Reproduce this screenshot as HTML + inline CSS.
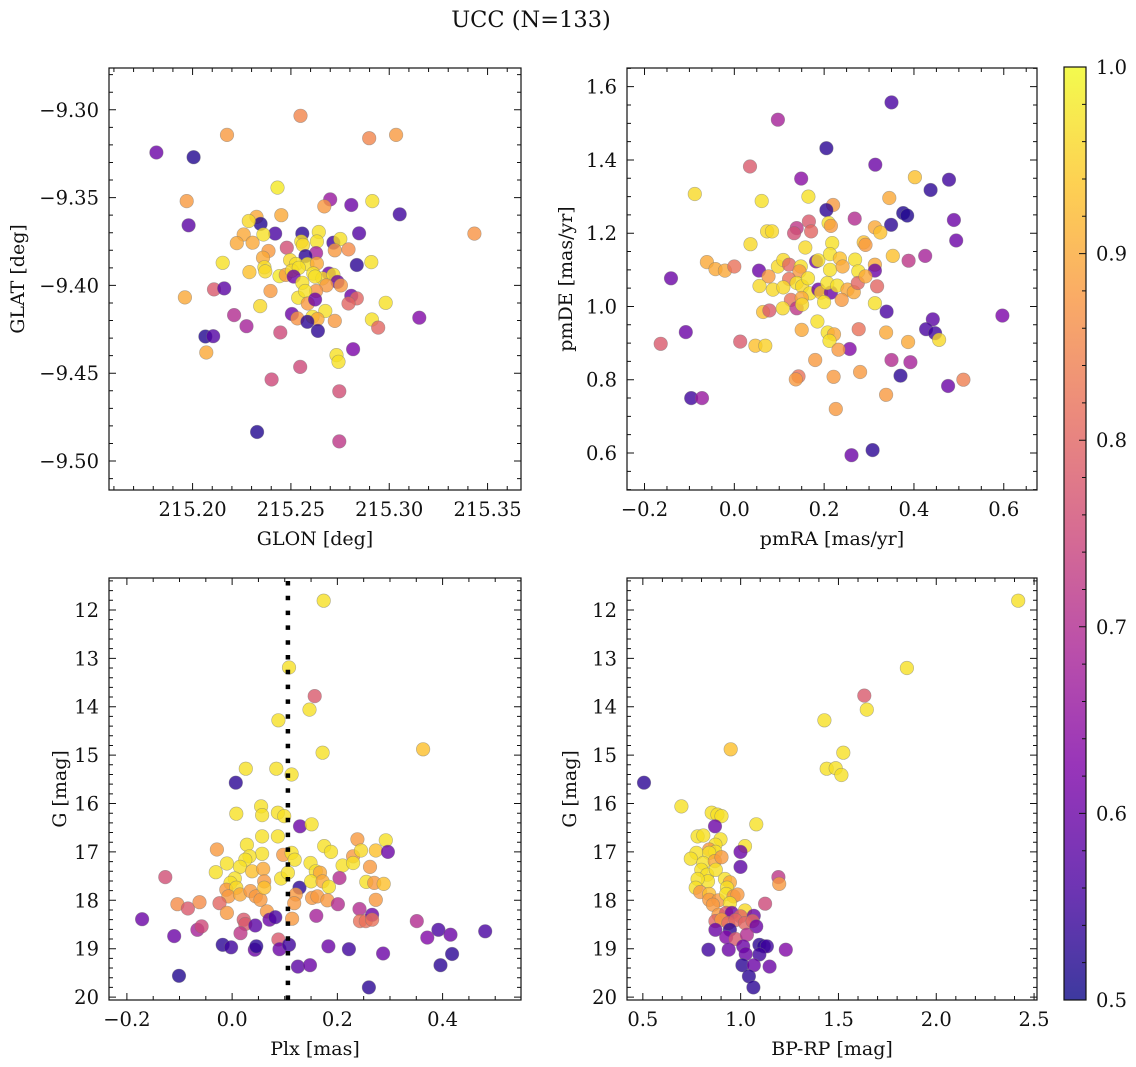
<!DOCTYPE html>
<html><head><meta charset="utf-8">
<style>
html,body{margin:0;padding:0;background:#fff;}
svg{display:block;font-family:"DejaVu Serif","Liberation Serif",serif;}
</style></head>
<body>
<svg id="fig" width="1136" height="1067" viewBox="0 0 1136 1067" xmlns="http://www.w3.org/2000/svg">
<rect x="0" y="0" width="1136" height="1067" fill="#fff"/>
<text x="531" y="27" font-size="22.5" text-anchor="middle" fill="#111">UCC (N=133)</text>
<defs>
<linearGradient id="plasmaGrad" x1="0" y1="1" x2="0" y2="0">
<stop offset="0" stop-color="#0d0887"/><stop offset="0.125" stop-color="#4c02a1"/><stop offset="0.25" stop-color="#7e03a8"/><stop offset="0.375" stop-color="#a92395"/><stop offset="0.5" stop-color="#cc4778"/><stop offset="0.625" stop-color="#e66c5c"/><stop offset="0.75" stop-color="#f89540"/><stop offset="0.875" stop-color="#fdc527"/><stop offset="1" stop-color="#f0f921"/>
</linearGradient>
</defs>
</svg>
<script>
// ---- Panel 1: GLON vs GLAT ----
const p1x=[215.1816,215.2005,215.2175,215.2549,215.2898,215.3035,215.197,215.198,215.2432,215.270,215.2807,215.2914,215.3053,215.3433,215.267,215.2325,215.2346,215.2286,215.2451,215.242,215.226,215.2225,215.2305,215.236,215.2558,215.2642,215.2847,215.2716,215.2751,215.2632,215.2553,215.2561,215.2479,215.2386,215.2723,215.2793,215.2628,215.2358,215.2153,215.2835,215.2909,215.2574,215.2496,215.2526,215.2584,215.2632,215.2365,215.237,215.2289,215.2442,215.2474,215.2505,215.254,215.2514,215.2614,215.2693,215.266,215.2716,215.2737,215.2681,215.2754,215.2558,215.2623,215.2109,215.2161,215.1961,215.2396,215.2628,215.2537,215.2572,215.2807,215.2835,215.2793,215.2982,215.2586,215.2623,215.2344,215.2211,215.2505,215.2533,215.261,215.2675,215.2635,215.2584,215.2723,215.2912,215.2944,215.3153,215.2274,215.2446,215.2637,215.2065,215.2105,215.207,215.2816,215.2732,215.2742,215.2547,215.2402,215.2746,215.2328,215.2746];
const p1y=[-9.3243,-9.327,-9.3143,-9.3034,-9.3162,-9.3143,-9.352,-9.3658,-9.3443,-9.351,-9.3542,-9.352,-9.3595,-9.3705,-9.355,-9.361,-9.365,-9.3633,-9.360,-9.3705,-9.371,-9.3759,-9.3757,-9.371,-9.3705,-9.3696,-9.3703,-9.3757,-9.3736,-9.375,-9.375,-9.377,-9.3785,-9.3804,-9.380,-9.3795,-9.3816,-9.3842,-9.3871,-9.3884,-9.3867,-9.3833,-9.3856,-9.3878,-9.3878,-9.3875,-9.3897,-9.392,-9.3924,-9.3947,-9.394,-9.3916,-9.390,-9.395,-9.3932,-9.3932,-9.396,-9.394,-9.398,-9.400,-9.400,-9.3985,-9.395,-9.4023,-9.4017,-9.4068,-9.4032,-9.4032,-9.407,-9.4032,-9.4059,-9.4074,-9.4103,-9.4099,-9.4103,-9.408,-9.4118,-9.4169,-9.4163,-9.4188,-9.4179,-9.4146,-9.4192,-9.4207,-9.4202,-9.4194,-9.424,-9.4184,-9.4232,-9.4268,-9.4259,-9.4291,-9.4289,-9.4382,-9.4363,-9.4397,-9.4435,-9.4464,-9.4536,-9.4603,-9.4835,-9.4888];
const p1c=[.6,.52,.88,.85,.85,.88,.88,.58,.98,.66,.6,.97,.55,.87,.88,.9,.52,.96,.9,.56,.9,.9,.9,.97,.53,.97,.57,.55,.97,.97,.97,.96,.76,.88,.88,.86,.68,.9,.97,.53,.97,.53,.96,.97,.97,.9,.97,.96,.93,.98,.88,.96,.97,.6,.97,.6,.96,.97,.6,.88,.88,.97,.97,.78,.58,.9,.88,.87,.97,.97,.6,.8,.8,.97,.88,.6,.96,.7,.6,.87,.97,.97,.9,.53,.88,.97,.8,.63,.68,.75,.53,.52,.57,.9,.62,.97,.97,.75,.75,.76,.52,.72];
const p1xTicks=[215.20,215.25,215.30,215.35];
const p1xTickLabels=["215.20","215.25","215.30","215.35"];
const p1yTicks=[-9.30,-9.35,-9.40,-9.45,-9.50];
const p1yTickLabels=["\u22129.30","\u22129.35","\u22129.40","\u22129.45","\u22129.50"];

// ---- Panel 2: pmRA vs pmDE ----
const p2x=[.350,.097,.205,.314,.035,.149,.402,.478,.437,-.088,.061,.165,.345,.220,.205,.376,.385,.268,.489,.166,.210,.215,.349,.313,.325,.139,.133,.171,.073,.084,.494,.036,.218,.288,.292,.158,.353,.425,-.061,-.042,-.021,0,.055,.097,.109,.122,.148,.145,.182,.187,.213,.213,.235,.241,.269,.313,.313,.276,.388,.076,.122,.139,.151,.164,.056,.086,.109,.168,.187,.193,.215,.207,.229,.252,.266,.275,.292,.318,.126,.139,.150,.151,.200,.239,.313,.064,.078,.108,.339,.442,.597,.185,.150,.277,.338,.427,.447,.456,.208,.222,.212,.387,.047,.069,.013,-.164,-.108,-.141,.257,.232,.180,.350,.392,.370,.143,.137,.221,.280,.476,.510,.338,-.096,-.072,.226,.261,.308];
const p2y=[1.557,1.510,1.432,1.387,1.382,1.349,1.353,1.346,1.318,1.307,1.288,1.300,1.296,1.277,1.263,1.255,1.248,1.240,1.236,1.232,1.228,1.220,1.223,1.216,1.202,1.214,1.200,1.205,1.205,1.205,1.180,1.170,1.173,1.175,1.168,1.161,1.138,1.138,1.121,1.102,1.098,1.109,1.098,1.109,1.127,1.114,1.109,1.096,1.123,1.126,1.100,1.143,1.131,1.109,1.128,1.114,1.098,1.096,1.125,1.082,1.075,1.064,1.055,1.077,1.056,1.046,1.052,1.036,1.046,1.038,1.038,1.064,1.057,1.046,1.039,1.064,1.082,1.055,1.018,0.995,1.023,1.005,1.012,1.018,1.009,0.985,0.989,0.995,0.986,0.965,0.975,0.959,0.936,0.938,0.929,0.938,0.927,0.909,0.929,0.924,0.906,0.903,0.893,0.893,0.904,0.898,0.930,1.077,0.884,0.882,0.854,0.854,0.848,0.811,0.809,0.801,0.808,0.821,0.783,0.800,0.759,0.750,0.750,0.720,0.594,0.608];
const p2c=[.56,.68,.53,.6,.78,.64,.93,.55,.53,.96,.97,.97,.9,.88,.53,.52,.52,.7,.6,.78,.97,.88,.53,.9,.93,.72,.76,.8,.96,.96,.6,.96,.97,.93,.88,.96,.93,.68,.9,.9,.9,.82,.6,.96,.96,.8,.97,.88,.6,.97,.97,.97,.93,.9,.97,.9,.6,.97,.72,.88,.82,.97,.96,.97,.96,.96,.96,.97,.6,.94,.6,.97,.97,.9,.9,.8,.9,.8,.82,.72,.9,.96,.97,.88,.97,.93,.78,.96,.56,.58,.62,.97,.9,.82,.9,.56,.55,.96,.97,.9,.97,.9,.93,.95,.78,.78,.6,.6,.63,.88,.88,.7,.68,.53,.82,.88,.88,.88,.6,.84,.88,.55,.66,.88,.6,.53];
const p2xTicks=[-0.2,0.0,0.2,0.4,0.6];
const p2xTickLabels=["\u22120.2","0.0","0.2","0.4","0.6"];
const p2yTicks=[0.6,0.8,1.0,1.2,1.4,1.6];
const p2yTickLabels=["0.6","0.8","1.0","1.2","1.4","1.6"];

// ---- Panel 3: Plx vs G ----
const p3x=[.174,.108,.157,.147,.088,.363,.172,.026,.084,.113,.007,.055,.008,.057,.087,.099,.129,.151,.057,.087,-.029,.028,.057,.097,.113,.175,.188,.238,.230,.245,.273,.292,.296,.033,.025,-.010,.015,.038,-.031,.059,.119,.149,.159,.167,.210,.230,.262,.005,-.003,-.011,.008,-.007,.015,.035,.045,.054,.061,.061,.093,.106,.128,.121,.118,.150,.172,.184,.152,.162,.181,.204,.255,.270,.288,.273,.201,-.127,-.104,-.084,-.062,-.024,-.010,.066,-.171,-.110,-.066,-.058,.022,.025,.016,.044,.071,.082,.114,.160,.242,.243,.254,.266,.266,.351,.371,.392,.415,.481,.418,.396,-.018,-.002,.043,.046,.088,.090,.108,.183,.222,.287,.125,.148,.260,-.101];
const p3y=[11.81,13.19,13.78,14.06,14.28,14.88,14.95,15.28,15.28,15.40,15.57,16.06,16.21,16.24,16.19,16.26,16.47,16.43,16.68,16.68,16.95,16.85,17.04,17.06,17.02,16.88,17.0,16.74,17.09,16.97,16.97,16.76,17.0,17.09,17.16,17.24,17.31,17.40,17.42,17.35,17.16,17.23,17.40,17.43,17.28,17.23,17.31,17.55,17.64,17.78,17.74,17.92,17.88,17.81,17.92,17.99,17.61,17.74,17.55,17.43,17.74,17.88,18.06,17.61,17.61,17.72,17.95,17.92,18.0,17.54,17.62,17.64,17.66,17.99,18.08,17.52,18.08,18.17,18.04,18.06,18.26,18.23,18.39,18.74,18.61,18.54,18.40,18.49,18.68,18.52,18.40,18.35,18.38,18.32,18.18,18.43,18.43,18.30,18.40,18.43,18.77,18.61,18.71,18.64,19.11,19.34,18.92,18.97,19.02,18.95,18.81,19.01,18.92,18.95,19.01,19.10,19.37,19.34,19.80,19.56];
const p3c=[.97,.97,.78,.97,.97,.93,.97,.97,.97,.97,.53,.97,.97,.97,.97,.97,.6,.97,.97,.97,.88,.97,.97,.88,.97,.97,.97,.88,.88,.96,.93,.97,.6,.97,.97,.97,.97,.93,.97,.9,.97,.97,.97,.9,.97,.97,.88,.97,.97,.88,.96,.88,.9,.88,.88,.88,.88,.93,.97,.97,.53,.88,.88,.97,.9,.97,.88,.88,.88,.7,.97,.88,.93,.88,.7,.76,.86,.78,.86,.8,.88,.88,.6,.6,.68,.75,.78,.78,.72,.58,.6,.56,.88,.68,.7,.82,.82,.6,.82,.7,.63,.56,.6,.56,.53,.53,.53,.55,.6,.53,.78,.6,.55,.6,.55,.6,.58,.6,.53,.52];
const p3xTicks=[-0.2,0.0,0.2,0.4];
const p3xTickLabels=["\u22120.2","0.0","0.2","0.4"];
const gTicks=[12,13,14,15,16,17,18,19,20];
const gTickLabels=["12","13","14","15","16","17","18","19","20"];
const plxLine=[0.106];

// ---- Panel 4: BP-RP vs G ----
const p4x=[2.419,1.850,1.632,1.645,1.428,.949,1.525,1.440,1.486,1.515,.506,.697,.852,.881,.902,1.080,.869,.780,.809,.897,.871,1.022,.999,.839,.871,.774,.745,.839,.809,.868,.902,.999,.799,.829,.873,.920,.945,.833,.780,.770,.793,.930,1.193,1.197,.839,.839,.887,.926,.964,.984,.858,.945,1.125,1.022,.887,.926,.955,.999,1.067,.871,.902,.937,.974,1.022,1.061,1.080,.871,.945,.926,.974,1.032,.835,.939,1.013,1.026,1.096,1.119,1.134,1.096,1.231,1.009,1.067,1.148,1.042,1.065];
const p4y=[11.81,13.20,13.77,14.06,14.28,14.88,14.95,15.28,15.27,15.41,15.57,16.06,16.19,16.23,16.26,16.43,16.47,16.68,16.66,16.74,16.85,16.88,17.0,16.95,17.0,17.02,17.14,17.02,17.23,17.19,17.11,17.31,17.37,17.47,17.37,17.56,17.63,17.61,17.56,17.74,17.83,17.74,17.52,17.66,17.87,17.99,18.0,17.87,17.92,17.88,18.09,18.06,18.07,18.21,18.30,18.26,18.26,18.33,18.32,18.43,18.40,18.47,18.41,18.47,18.43,18.54,18.61,18.61,18.76,18.80,18.71,19.02,19.02,18.95,19.11,18.92,18.95,18.95,19.12,19.02,19.34,19.34,19.37,19.57,19.80];
const p4c=[.97,.97,.78,.97,.97,.93,.97,.97,.97,.97,.53,.97,.97,.97,.97,.97,.6,.97,.97,.97,.97,.97,.6,.88,.97,.97,.97,.97,.97,.9,.88,.58,.97,.97,.97,.97,.9,.97,.97,.97,.88,.97,.72,.88,.93,.88,.88,.97,.88,.88,.88,.97,.75,.96,.88,.78,.6,.8,.6,.8,.88,.8,.8,.8,.8,.6,.6,.53,.63,.78,.7,.55,.6,.6,.6,.53,.53,.55,.55,.63,.53,.6,.6,.53,.53];
const p4xTicks=[0.5,1.0,1.5,2.0,2.5];
const p4xTickLabels=["0.5","1.0","1.5","2.0","2.5"];

// ---- Colorbar ----
const cbTicks=[0.5,0.6,0.7,0.8,0.9,1.0];
const cbTickLabels=["0.5","0.6","0.7","0.8","0.9","1.0"];

const NS="http://www.w3.org/2000/svg";
const svg=document.getElementById('fig');
function mk(tag,attrs,parent){const e=document.createElementNS(NS,tag);for(const k in attrs)e.setAttribute(k,attrs[k]);(parent||svg).appendChild(e);return e;}

const stops=[[0,[13,8,135]],[0.125,[76,2,161]],[0.25,[126,3,168]],[0.375,[169,35,149]],[0.5,[204,71,120]],[0.625,[230,108,92]],[0.75,[248,149,64]],[0.875,[253,197,39]],[1,[240,249,33]]];
function plasma(v){let t=(v-0.5)/0.5;t=Math.max(0,Math.min(1,t));for(let i=1;i<stops.length;i++){if(t<=stops[i][0]){const a=stops[i-1],b=stops[i];const f=(t-a[0])/(b[0]-a[0]);const c=a[1].map((x,j)=>Math.round(x+(b[1][j]-x)*f));return 'rgb('+c.join(',')+')';}}return 'rgb(240,249,33)';}

const TICK_FS=19.5, LABEL_FS=19;
function panel(name,box,xr,yr,xs,ys,cs,xt,xtl,xminor,yt,ytl,yminor,xlabel,ylabel,ylabelX){
  const g=mk('g',{});
  
  
  const sx=v=>box.l+(v-xr[0])/(xr[1]-xr[0])*(box.r-box.l);
  const sy=v=>box.t+(v-yr[0])/(yr[1]-yr[0])*(box.b-box.t);
  const pts=mk('g',{},g);
  
  
  for(let i=0;i<xs.length;i++){
    const c=mk('circle',{cx:sx(xs[i]).toFixed(1),cy:sy(ys[i]).toFixed(1),r:6.8,fill:plasma(cs[i]),'fill-opacity':0.8,stroke:'#777','stroke-opacity':0.55,'stroke-width':0.6},pts);
    
    
  }
  const fr=mk('rect',{x:box.l,y:box.t,width:box.r-box.l,height:box.b-box.t,fill:'none',stroke:'#111','stroke-width':1.2},g);
  
  
  let d='';
  const lo=Math.min(xr[0],xr[1]),hi=Math.max(xr[0],xr[1]);
  for(let v=Math.ceil(lo/xminor-1e-6)*xminor;v<=hi+1e-9;v+=xminor){const x=sx(v);d+=`M${x},${box.b}v-4M${x},${box.t}v4`;}
  xt.forEach(v=>{const x=sx(v);d+=`M${x},${box.b}v-7M${x},${box.t}v7`;});
  const ylo=Math.min(yr[0],yr[1]),yhi=Math.max(yr[0],yr[1]);
  for(let v=Math.ceil(ylo/yminor-1e-6)*yminor;v<=yhi+1e-9;v+=yminor){const y=sy(v);d+=`M${box.l},${y}h4M${box.r},${y}h-4`;}
  yt.forEach(v=>{const y=sy(v);d+=`M${box.l},${y}h7M${box.r},${y}h-7`;});
  const tk=mk('path',{d:d,stroke:'#111','stroke-width':1,fill:'none'},g);
  
  
  xt.forEach((v,i)=>{const t=mk('text',{x:sx(v),y:box.b+26,'font-size':TICK_FS,'text-anchor':'middle',fill:'#111'},g);t.textContent=xtl[i];
    
    });
  yt.forEach((v,i)=>{const t=mk('text',{x:box.l-10,y:sy(v)+7,'font-size':TICK_FS,'text-anchor':'end',fill:'#111'},g);t.textContent=ytl[i];
    
    });
  const xl=mk('text',{x:(box.l+box.r)/2,y:box.b+55,'font-size':LABEL_FS,'text-anchor':'middle',fill:'#111'},g);xl.textContent=xlabel;
  
  
  const cy=(box.t+box.b)/2;
  const yl=mk('text',{x:ylabelX,y:cy,'font-size':LABEL_FS,'text-anchor':'middle',fill:'#111',transform:`rotate(-90 ${ylabelX} ${cy})`},g);yl.textContent=ylabel;
  
  
  return {sx,sy,g,box};
}

panel('glon-glat-panel',{l:109,r:521,t:68,b:490},[215.1575,215.367],[-9.2762,-9.5165],p1x,p1y,p1c,p1xTicks,p1xTickLabels,0.01,p1yTicks,p1yTickLabels,0.01,'GLON [deg]','GLAT [deg]',24);
panel('pm-panel',{l:627,r:1037,t:68,b:490},[-0.239,0.674],[1.651,0.499],p2x,p2y,p2c,p2xTicks,p2xTickLabels,0.05,p2yTicks,p2yTickLabels,0.05,'pmRA [mas/yr]','pmDE [mas/yr]',572);
const P3=panel('plx-g-panel',{l:109,r:521,t:578,b:1000},[-0.234,0.549],[11.34,20.06],p3x,p3y,p3c,p3xTicks,p3xTickLabels,0.05,gTicks,gTickLabels,0.2,'Plx [mas]','G [mag]',66);
panel('cmd-panel',{l:627,r:1037,t:578,b:1000},[0.419,2.515],[11.34,20.06],p4x,p4y,p4c,p4xTicks,p4xTickLabels,0.1,gTicks,gTickLabels,0.2,'BP-RP [mag]','G [mag]',576);

plxLine.forEach(v=>{
  const ln=mk('line',{x1:P3.sx(v),x2:P3.sx(v),y1:P3.box.t+3,y2:P3.box.b,stroke:'#000','stroke-width':4.5,'stroke-dasharray':'4.5 10.3'});
  
  
});

const cb={l:1064,r:1086,t:67,b:1000};
const cbg=mk('g',{});


const cbr=mk('rect',{x:cb.l,y:cb.t,width:cb.r-cb.l,height:cb.b-cb.t,fill:'url(#plasmaGrad)','fill-opacity':0.8,stroke:'#111','stroke-width':1.2},cbg);


const cyf=v=>cb.b-(v-0.5)/0.5*(cb.b-cb.t);
let cd='';
for(let v=0.5;v<=1.0001;v+=0.02){cd+=`M${cb.r},${cyf(v)}h-4`;}
cbTicks.forEach(v=>{cd+=`M${cb.r},${cyf(v)}h-7`;});
const cbt=mk('path',{d:cd,stroke:'#111','stroke-width':1},cbg);


cbTicks.forEach((v,i)=>{const t=mk('text',{x:1096,y:cyf(v)+7,'font-size':TICK_FS,fill:'#111'},cbg);t.textContent=cbTickLabels[i];
  
  });
</script>
</body></html>
